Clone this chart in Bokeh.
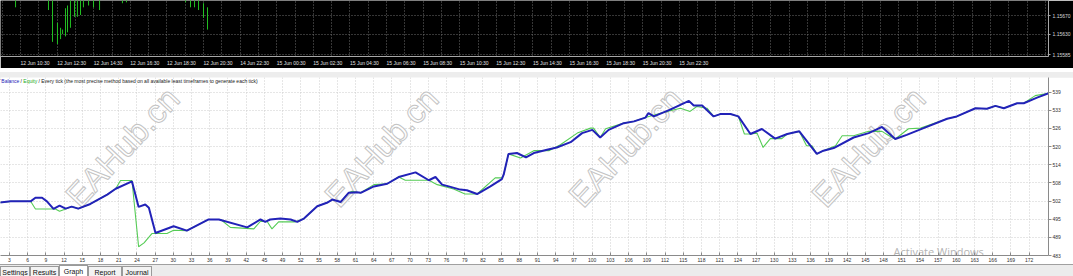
import numpy as np
from bokeh.plotting import figure
from bokeh.models import FixedTicker, Range1d, Div
from bokeh.layouts import column
from bokeh.core.properties import value
from bokeh.embed import file_html
from bokeh.resources import INLINE

# ---------------- data ----------------
trade_no_balance = [1.0, 3.2, 6.5, 7.3, 8.4, 9.2, 10.3, 11.3, 12.3, 13.3, 14.4, 16.4, 19.2, 20.6, 23.3,
                    24.4, 25.5, 26.1, 27.2, 30.2, 32.4, 36.0, 37.7, 42.4, 44.6, 45.4, 46.2, 47.9, 49.6, 50.7,
                    51.8, 54.0, 55.6, 56.5, 57.9, 59.2, 60.6, 61.2, 63.4, 65.6, 67.5, 70.3, 72.5, 73.6, 74.7,
                    75.8, 77.7, 78.8, 80.5, 82.7, 84.6, 84.9, 85.7, 87.1, 88.6, 89.9, 92.1, 93.7, 96.0, 97.9,
                    99.6, 100.9, 102.3, 104.8, 106.5, 108.4, 108.9, 109.8, 112.5, 115.6, 116.4, 117.8, 119.7,
                    120.8, 122.5, 123.8, 125.8, 127.7, 129.9, 131.9, 133.9, 136.8, 137.9, 139.6, 142.9, 145.4,
                    147.6, 149.8, 151.7, 154.5, 158.4, 160.0, 163.1, 165.0, 166.4, 167.8, 170.0, 171.1, 173.3, 175.2]
balance = [501.0, 501.5, 501.5, 502.7, 502.7, 501.5, 498.9, 500.0, 499.0, 499.7, 499.0, 500.6, 503.8, 505.8, 508.3,
           499.6, 500.4, 499.3, 490.7, 493.0, 491.5, 495.3, 495.3, 492.6, 495.3, 494.5, 495.3, 495.6, 495.3, 494.5,
           495.6, 499.8, 501.0, 502.1, 501.3, 504.4, 504.6, 504.4, 506.6, 507.5, 509.8, 511.4, 508.7, 509.8, 507.2,
           506.6, 505.5, 505.3, 504.0, 506.6, 509.1, 510.6, 517.7, 518.0, 516.5, 518.0, 519.1, 519.9, 521.7, 524.8,
           525.9, 523.3, 525.9, 528.2, 528.8, 530.1, 531.6, 530.5, 532.8, 535.8, 534.2, 534.2, 530.5,
           531.3, 531.3, 530.5, 524.5, 526.2, 522.9, 524.5, 525.4, 517.7, 518.8, 519.7, 523.3, 524.8,
           526.9, 522.8, 524.2, 526.5, 529.7, 530.5, 533.3, 533.1, 534.1, 533.3, 535.0, 535.0, 536.9, 538.4]

trade_no_equity = [1.0, 3.2, 6.5, 7.3, 10.6, 11.3, 12.3, 13.3, 14.4, 16.4, 19.2, 20.6, 21.4, 23.3, 24.4,
                   25.3, 26.6, 29.1, 30.2, 32.4, 36.0, 38.0, 39.6, 43.5, 44.6, 45.7, 46.5, 47.6, 50.4, 51.8,
                   54.0, 55.6, 56.5, 57.9, 59.2, 59.8, 60.6, 61.2, 63.4, 65.6, 67.5, 68.6, 72.5, 73.9, 76.6,
                   78.5, 80.5, 83.5, 84.6, 84.9, 85.7, 87.7, 89.9, 92.4, 94.3, 97.1, 99.3, 99.8, 100.9, 101.8,
                   104.8, 106.5, 108.4, 110.9, 114.2, 115.8, 116.9, 118.6, 119.7, 120.8, 122.5, 123.8, 124.8,
                   125.8, 126.9, 127.9, 129.1, 131.0, 131.9, 133.9, 135.1, 136.0, 136.8, 137.9, 139.9, 141.0,
                   142.9, 145.4, 147.6, 148.7, 149.8, 152.0, 154.0, 158.4, 160.0, 163.1, 165.0, 166.4, 167.8,
                   170.0, 171.1, 173.0, 175.2]
equity = [501.0, 501.5, 501.5, 498.9, 498.9, 498.1, 498.9, 499.7, 499.0, 500.6, 503.8, 505.8, 508.6, 508.6, 486.0,
          487.3, 490.5, 490.5, 491.6, 491.5, 495.3, 495.3, 492.6, 492.1, 494.7, 494.6, 492.1, 494.5, 494.5, 495.6,
          499.8, 501.0, 502.1, 501.3, 504.4, 504.9, 504.6, 504.4, 507.2, 507.5, 509.8, 508.7, 508.7, 507.2, 505.7,
          504.0, 504.0, 509.5, 509.5, 510.6, 517.7, 516.3, 518.8, 518.8, 520.8, 524.8, 526.5, 526.5, 523.3, 526.3,
          528.2, 528.8, 530.1, 531.6, 533.3, 532.2, 533.9, 533.3, 530.5, 531.3, 531.3, 530.5, 524.5,
          524.5, 524.8, 519.9, 522.9, 522.9, 524.5, 525.4, 520.5, 520.5, 517.7, 518.8, 520.5, 523.9,
          523.9, 525.4, 525.4, 524.0, 522.8, 526.3, 526.5, 529.7, 530.5, 533.3, 533.1, 534.1, 533.3,
          535.0, 535.0, 537.6, 538.4]

x_tick_labels = ["3", "6", "9", "12", "15", "18", "21", "24", "27", "30", "33", "36", "39", "42", "45",
                 "49", "52", "55", "58", "61", "64", "67", "70", "73", "76", "79", "82", "85", "88", "91",
                 "94", "97", "100", "103", "106", "109", "112", "115", "118", "121", "124", "127", "130",
                 "133", "136", "139", "142", "145", "148", "151", "154", "157", "160", "163", "166", "169", "172"]
y_tick_values = [483.0, 489.2, 495.4, 501.6, 507.8, 514.0, 520.2, 526.4, 532.6, 538.8]
y_tick_labels = ["483", "489", "495", "502", "508", "514", "520", "526", "533", "539"]

time_labels = ["12 Jun 10:30", "12 Jun 12:30", "12 Jun 14:30", "12 Jun 16:30", "12 Jun 18:30",
               "12 Jun 20:30", "14 Jun 22:30", "15 Jun 00:30", "15 Jun 02:30", "15 Jun 04:30",
               "15 Jun 06:30", "15 Jun 08:30", "15 Jun 10:30", "15 Jun 12:30", "15 Jun 14:30",
               "15 Jun 16:30", "15 Jun 18:30", "15 Jun 20:30", "15 Jun 22:30"]
price_tick_values = [1.15670, 1.15630, 1.15585]
price_tick_labels = ["1.15670", "1.15630", "1.15585"]

bar_hour = [-0.27, 1.53, 1.75, 2.02, 2.19, 2.30, 2.46, 2.57, 2.73, 2.95, 3.11, 3.28, 3.44, 3.72, 3.99,
            4.32, 5.57, 5.79, 9.02, 9.29, 9.51, 9.73, 10.0, 10.22]
bar_high = [1.15715, 1.15715, 1.15715, 1.15655, 1.15644, 1.15640, 1.15687, 1.15693, 1.15715, 1.15715,
            1.15715, 1.15715, 1.15715, 1.15715, 1.15715, 1.15715, 1.15715, 1.15715, 1.15715, 1.15715,
            1.15715, 1.15715, 1.15698, 1.15689]
bar_low = [1.15689, 1.15683, 1.15613, 1.15608, 1.15619, 1.15630, 1.15625, 1.15634, 1.15644, 1.15668,
           1.15668, 1.15672, 1.15689, 1.15693, 1.15689, 1.15683, 1.15698, 1.15700, 1.15700, 1.15689,
           1.15689, 1.15683, 1.15666, 1.15640]

title_parts = ["Balance", "/", "Equity",
               "/ Every tick (the most precise method based on all available least timeframes to generate each tick)"]
watermark_text = "EAHub.cn"
tab_names = ["Settings", "Results", "Graph", "Report", "Journal"]

# ---------------- layout constants ----------------
FONT = "Liberation Sans"
W = 1073
FRAME_W = 1048
TOP_H, TOP_FRAME_H = 68, 58
BOT_H, BOT_FRAME_H = 187, 179
BOT_PAGE_TOP = 77
BLUE = "#2222b8"
GREEN = "#55cc55"
PX_PER_HOUR = 18.3

TX0, TX1 = -20 / PX_PER_HOUR, (FRAME_W - 20) / PX_PER_HOUR
TY0, TY1 = 1.155808, 1.15704
XR0, XR1 = 1.51, 175.2
YR0, YR1 = 483.0, 483.0 + BOT_FRAME_H * 0.3396


def bx(px):
    return XR0 + px * (XR1 - XR0) / FRAME_W


def by(py_page):
    return YR0 + (BOT_PAGE_TOP + BOT_FRAME_H - py_page) * (YR1 - YR0) / BOT_FRAME_H


def style_axis(ax, line_color, label_color):
    ax.axis_line_color = line_color
    ax.major_tick_line_color = line_color
    ax.minor_tick_line_color = None
    ax.major_label_text_color = label_color
    ax.major_label_text_font = FONT
    ax.major_label_text_font_size = "5px"


# ---------------- top price chart ----------------
top = figure(width=W, height=TOP_H, x_range=Range1d(TX0, TX1), y_range=Range1d(TY0, TY1),
             y_axis_location="right", output_backend="svg", toolbar_location=None,
             min_border_left=0, min_border_right=W - FRAME_W, min_border_top=0,
             min_border_bottom=TOP_H - TOP_FRAME_H,
             background_fill_color="black", border_fill_color="black", outline_line_color=None)

# labels sit to the right of their (hourly) time marks: centre them half a label further right
label_shift = 14.5 / PX_PER_HOUR
time_ticks = [2 * k + label_shift for k in range(len(time_labels))]
xa = top.xaxis[0]
xa.ticker = FixedTicker(ticks=time_ticks)
xa.major_label_overrides = {t: lab for t, lab in zip(time_ticks, time_labels)}
style_axis(xa, "#a8a8a8", "#e0e0e0")
xa.major_tick_line_color = None
xa.major_tick_out = 2
xa.major_tick_in = 0
xa.major_label_standoff = 1

ya = top.yaxis[0]
ya.ticker = FixedTicker(ticks=price_tick_values)
ya.major_label_overrides = {t: lab for t, lab in zip(price_tick_values, price_tick_labels)}
style_axis(ya, "#a8a8a8", "#d8d8d8")
ya.major_tick_out = 2
ya.major_tick_in = 0
ya.major_label_standoff = 2

top.xgrid[0].ticker = FixedTicker(ticks=list(range(-1, 58)))
for g in (top.xgrid[0], top.ygrid[0]):
    g.grid_line_color = "#6c6c6c"
    g.grid_line_dash = "1 2"

top.segment(x0=bar_hour, y0=bar_low, x1=bar_hour, y1=bar_high, line_color="#22c022", line_width=1)

# ---------------- balance / equity graph ----------------
bot = figure(width=W, height=BOT_H, x_range=Range1d(XR0, XR1), y_range=Range1d(YR0, YR1),
             y_axis_location="right", output_backend="svg", toolbar_location=None,
             min_border_left=0, min_border_right=W - FRAME_W, min_border_top=0,
             min_border_bottom=BOT_H - BOT_FRAME_H,
             background_fill_color="white", border_fill_color="white", outline_line_color=None)

x_ticks = list(np.linspace(3.0, 172.0, len(x_tick_labels)))
bxa = bot.xaxis[0]
bxa.ticker = FixedTicker(ticks=x_ticks)
bxa.major_label_overrides = {t: lab for t, lab in zip(x_ticks, x_tick_labels)}
style_axis(bxa, "#8a8a8a", "#303030")
bxa.major_tick_in = 3
bxa.major_tick_out = 0
bxa.major_label_standoff = 2

bya = bot.yaxis[0]
bya.ticker = FixedTicker(ticks=y_tick_values)
bya.major_label_overrides = {t: lab for t, lab in zip(y_tick_values, y_tick_labels)}
style_axis(bya, "#8a8a8a", "#303030")
bya.major_tick_in = 0
bya.major_tick_out = 3
bya.major_label_standoff = 1

for g in (bot.xgrid[0], bot.ygrid[0]):
    g.grid_line_color = "#cdcdcd"
    g.grid_line_dash = "1 2"

# watermark text (kept fully inside the graph frame)
wm_px = [(122, 147), (381, 147), (625, 147), (868, 147)]
bot.text(x=[bx(a) for a, b in wm_px], y=[by(b) for a, b in wm_px], text=[watermark_text] * len(wm_px),
         angle=0.82, text_align="center", text_baseline="middle", text_font=value(FONT),
         text_font_size=value("33px"), text_color="white", text_outline_color="#c4c4c4")

bot.text(x=[bx(893)], y=[by(252)], text=["Activate Windows"], text_align="left",
         text_baseline="alphabetic", text_font=value("Open Sans"), text_font_size=value("11px"),
         text_color="#b4b4b4")

# title pieces
ty = by(81)
bot.text(x=[bx(0.8)], y=[ty], text=[title_parts[0]], text_align="left", text_baseline="middle",
         text_color=BLUE, text_font=value(FONT), text_font_size=value("5px"))
bot.text(x=[bx(20.0)], y=[ty], text=[title_parts[1]], text_align="left", text_baseline="middle",
         text_color="#202020", text_font=value(FONT), text_font_size=value("5px"))
bot.text(x=[bx(22.8)], y=[ty], text=[title_parts[2]], text_align="left", text_baseline="middle",
         text_color="#22aa22", text_font=value(FONT), text_font_size=value("5px"))
bot.text(x=[bx(38.0)], y=[ty], text=[title_parts[3]], text_align="left", text_baseline="middle",
         text_color="#202020", text_font=value(FONT), text_font_size=value("5px"))

bot.line(trade_no_equity, equity, line_color=GREEN, line_width=1.1)
bot.line(trade_no_balance, balance, line_color=BLUE, line_width=2)

# ---------------- window chrome ----------------
spacer = Div(text='<div style="width:1073px;height:9px;background:#ededed;'
                  'border-top:1px solid #ffffff;border-bottom:1px solid #9a9a9a;box-sizing:border-box"></div>',
             width=W, height=9, margin=0)

tab_edges = [(0, 30), (30, 59), (59, 88), (88, 122), (122, 152)]
tab_html = ""
for name, (l, r) in zip(tab_names, tab_edges):
    sel = name == "Graph"
    tab_html += ('<div style="position:absolute;left:%dpx;top:%dpx;width:%dpx;height:16px;'
                 'border:1px solid #9a9a9a;border-bottom:none;background:%s;box-sizing:border-box;'
                 'text-align:center;padding-top:1px;font-size:7px;line-height:9px;color:#111;'
                 'white-space:nowrap">%s</div>'
                 % (l, 0 if sel else 1, r - l, "#ffffff" if sel else "#f3f3f3", name))
tabs = Div(text='<div style="position:relative;width:1073px;height:12px;overflow:hidden;background:#ececec;'
                'border-top:1px solid #a0a0a0;box-sizing:border-box;font-family:\'Liberation Sans\',sans-serif">'
                + tab_html + '</div>',
           width=W, height=12, margin=0)

layout = column(top, spacer, bot, tabs)
open("out.html", "w").write(file_html(layout, INLINE))
